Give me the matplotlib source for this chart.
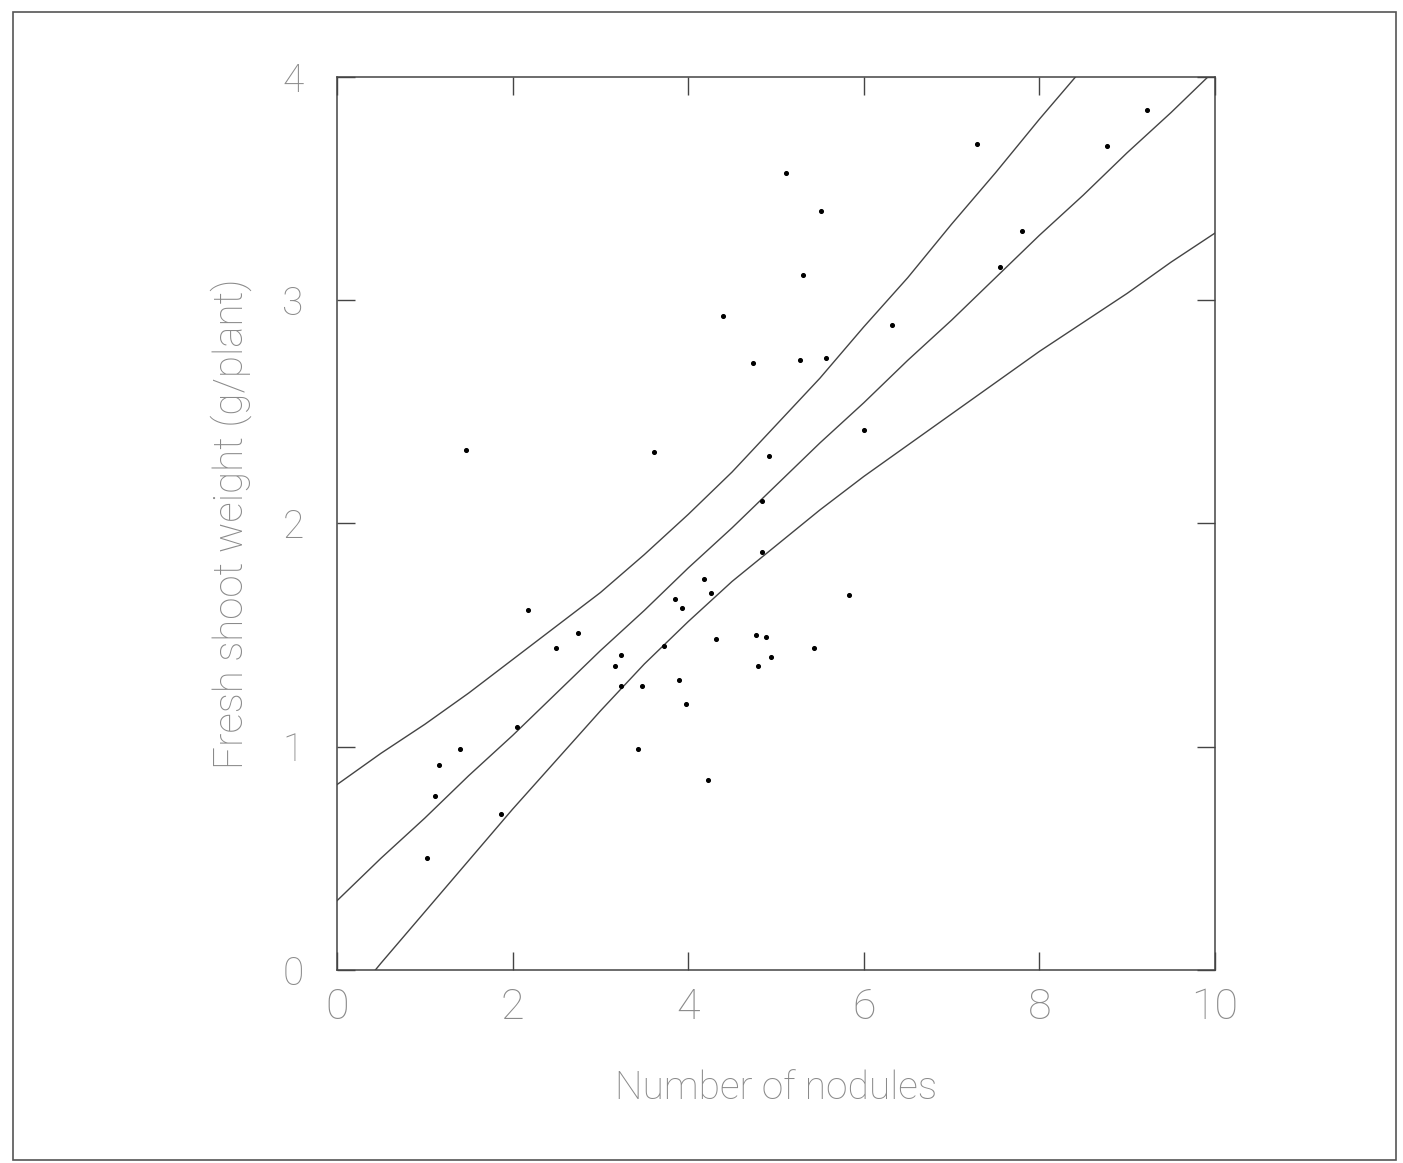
import matplotlib.pyplot as plt
from matplotlib.patches import Rectangle

# scatter points
nodules = [1.03, 1.12, 1.16, 1.40, 1.47, 1.87, 2.05, 2.17, 2.50, 2.74,
           3.17, 3.23, 3.23, 3.43, 3.47, 3.61, 3.73, 3.85, 3.90, 3.93,
           3.97, 4.18, 4.23, 4.26, 4.32, 4.40, 4.74, 4.77, 4.80, 4.84,
           4.84, 4.89, 4.92, 4.94, 5.11, 5.27, 5.31, 5.43, 5.51, 5.57,
           5.83, 6.00, 6.32, 7.29, 7.55, 7.80, 8.77, 9.22]
weight = [0.50, 0.78, 0.92, 0.99, 2.33, 0.70, 1.09, 1.61, 1.44, 1.51,
          1.36, 1.41, 1.27, 0.99, 1.27, 2.32, 1.45, 1.66, 1.30, 1.62,
          1.19, 1.75, 0.85, 1.69, 1.48, 2.93, 2.72, 1.50, 1.36, 1.87,
          2.10, 1.49, 2.30, 1.40, 3.57, 2.73, 3.11, 1.44, 3.40, 2.74,
          1.68, 2.42, 2.89, 3.70, 3.15, 3.31, 3.69, 3.85]

# fitted line and confidence band, read every half unit
line_x = [0, 0.5, 1, 1.5, 2, 2.5, 3, 3.5, 4, 4.5, 5,
          5.5, 6, 6.5, 7, 7.5, 8, 8.5, 9, 9.5, 10]
fit = [0.31, 0.50, 0.68, 0.87, 1.05, 1.24, 1.43, 1.61, 1.80, 1.98, 2.17,
       2.36, 2.54, 2.73, 2.91, 3.10, 3.29, 3.47, 3.66, 3.84, 4.03]
upper = [0.83, 0.97, 1.10, 1.24, 1.39, 1.54, 1.69, 1.86, 2.04, 2.23, 2.44,
         2.65, 2.88, 3.10, 3.34, 3.57, 3.81, 4.04, 4.28, 4.52, 4.76]
lower = [-0.21, 0.03, 0.26, 0.49, 0.72, 0.94, 1.16, 1.37, 1.56, 1.74, 1.90,
         2.06, 2.21, 2.35, 2.49, 2.63, 2.77, 2.90, 3.03, 3.17, 3.30]

x_ticks = [0, 2, 4, 6, 8, 10]
y_ticks = [0, 1, 2, 3, 4]

txt = '#8a8a8a'
fnt = 'Roboto'

fig = plt.figure(figsize=(14.03, 11.63), dpi=100)
ax = fig.add_axes([0.2402, 0.166, 0.6258, 0.768])

for ys in (upper, fit, lower):
    ax.plot(line_x, ys, color='#444444', lw=1.0)
ax.scatter(nodules, weight, s=7, color='black', zorder=3)

ax.set_xlim(0, 10)
ax.set_ylim(0, 4)
ax.set_xticks(x_ticks)
ax.set_yticks(y_ticks)
ax.tick_params(direction='in', length=13, width=1.0, color='#444444',
               top=True, right=True, labelcolor=txt)
ax.tick_params(axis='x', pad=12, labelsize=31)
ax.tick_params(axis='y', pad=24, labelsize=28)
for lab in ax.get_xticklabels() + ax.get_yticklabels():
    lab.set_fontfamily(fnt)
    lab.set_fontweight('light')
for s in ax.spines.values():
    s.set_linewidth(1.1)
    s.set_color('#444444')

ax.set_xlabel('Number of nodules', fontsize=28, color=txt, family=fnt,
              fontweight='light', labelpad=30)
ax.set_ylabel('Fresh shoot weight (g/plant)', fontsize=29, color=txt,
              family=fnt, fontweight='light', labelpad=22)

# outer frame of the scanned figure
fig.patches.append(Rectangle((0.009, 0.003), 0.986, 0.987, transform=fig.transFigure,
                             fill=False, lw=1.2, edgecolor='#555555'))

fig.savefig('out.png', dpi=100)
